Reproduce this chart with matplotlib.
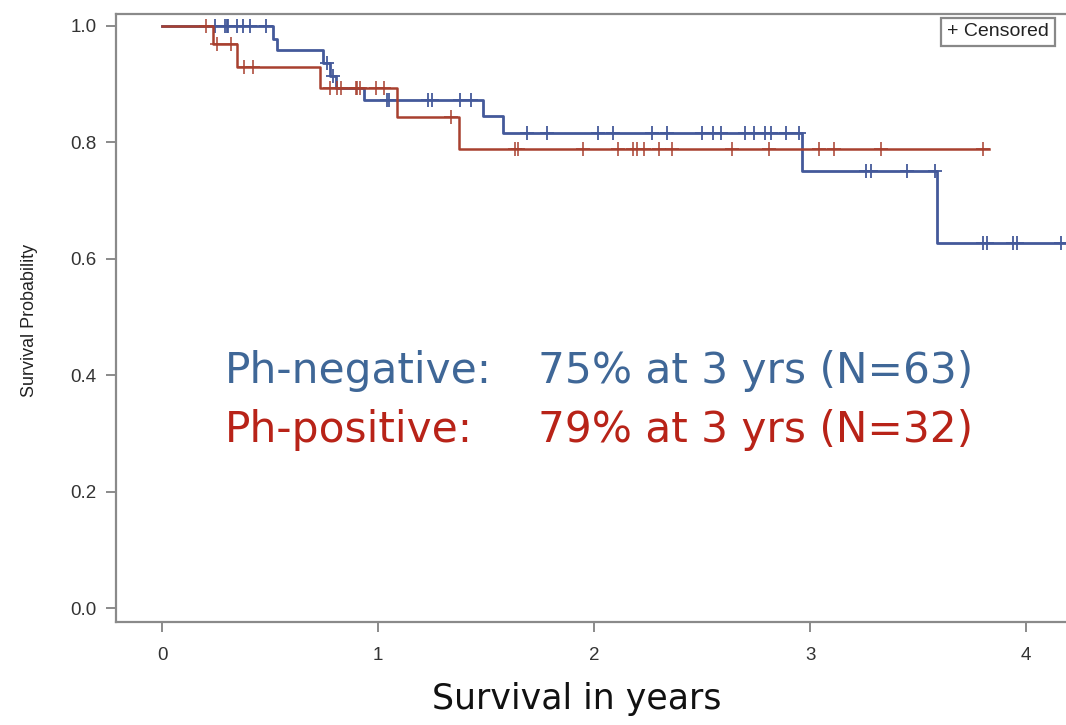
import numpy as np
import matplotlib
matplotlib.use("Agg")
import matplotlib.pyplot as plt

# ---- data ----
neg_step_times = [0.0, 0.514, 0.532, 0.745, 0.78, 0.805, 0.935, 1.487, 1.58, 2.965, 3.59]
neg_surv = [1.0, 0.978, 0.958, 0.937, 0.915, 0.894, 0.873, 0.845, 0.816, 0.751, 0.627]
neg_end = 4.30
neg_censor = [0.245, 0.292, 0.30, 0.306, 0.346, 0.376, 0.407, 0.481, 0.765, 0.79,
              1.04, 1.05, 1.23, 1.25, 1.38, 1.43, 1.69, 1.78, 2.02, 2.09, 2.27,
              2.34, 2.50, 2.55, 2.59, 2.70, 2.74, 2.79, 2.82, 2.89, 2.95, 3.26,
              3.28, 3.45, 3.58, 3.80, 3.82, 3.94, 3.96, 4.16]

pos_step_times = [0.0, 0.236, 0.347, 0.731, 1.087, 1.375]
pos_surv = [1.0, 0.969, 0.930, 0.894, 0.844, 0.789]
pos_end = 3.83
pos_censor = [0.204, 0.254, 0.32, 0.38, 0.42, 0.78, 0.81, 0.83, 0.90, 0.905, 0.915,
              0.99, 1.03, 1.34, 1.634, 1.65, 1.95, 2.11, 2.18, 2.20, 2.23, 2.30,
              2.36, 2.64, 2.81, 3.04, 3.11, 3.33, 3.80]

x_ticks = [0, 1, 2, 3, 4]
y_ticks = [0.0, 0.2, 0.4, 0.6, 0.8, 1.0]

neg_label = ["Ph-negative:", "75% at 3 yrs (N=63)"]
pos_label = ["Ph-positive:", "79% at 3 yrs (N=32)"]

BLUE = "#44599a"
RED = "#a8402f"
TXT_BLUE = "#3f6797"
TXT_RED = "#b82318"
SPINE = "#8a8a8a"
W, H = 1066, 725


def step_y(times, surv, t):
    idx = np.searchsorted(np.asarray(times), np.asarray(t), side="right") - 1
    return np.asarray(surv)[idx]


fig = plt.figure(figsize=(W / 100, H / 100), dpi=100)
ax = fig.add_axes([116 / W, 1 - 622 / H, 1 - 116 / W, (622 - 14) / H])

# Ph-negative (blue)
xs = list(neg_step_times) + [neg_end]
ys = list(neg_surv) + [neg_surv[-1]]
ax.step(xs, ys, where="post", color=BLUE, lw=2.0, zorder=3)
ax.plot(neg_censor, step_y(neg_step_times, neg_surv, neg_censor), ls="none",
        marker="+", ms=10, mew=1.3, color=BLUE, zorder=3)

# Ph-positive (red)
xs = list(pos_step_times) + [pos_end]
ys = list(pos_surv) + [pos_surv[-1]]
ax.step(xs, ys, where="post", color=RED, lw=1.8, zorder=4)
ax.plot(pos_censor, step_y(pos_step_times, pos_surv, pos_censor), ls="none",
        marker="+", ms=10, mew=1.1, color=RED, zorder=4)

ax.set_xlim(-0.213, 4.185)
ax.set_ylim(-0.0232, 1.0206)
ax.set_xticks(x_ticks)
ax.set_xticklabels([str(v) for v in x_ticks])
ax.set_yticks(y_ticks)
ax.set_yticklabels([f"{v:.1f}" for v in y_ticks])

for s in ["left", "bottom", "top"]:
    ax.spines[s].set_color(SPINE)
    ax.spines[s].set_linewidth(1.6)
ax.spines["right"].set_visible(False)
ax.tick_params(axis="both", direction="out", length=7, width=1.4, color=SPINE,
               labelsize=13.5, labelcolor="#333333")
ax.tick_params(axis="x", pad=11)
ax.tick_params(axis="y", pad=7)
for lab in ax.get_xticklabels() + ax.get_yticklabels():
    lab.set_family("Liberation Sans")

# axis labels
fig.text(30 / W, 1 - 320 / H, "Survival Probability", rotation=90,
         ha="center", va="center", fontsize=12.9, family="Liberation Sans",
         color="#222222")
fig.text(577 / W, 1 - 709 / H, "Survival in years", ha="center",
         va="baseline", fontsize=25, family="DejaVu Sans", color="#111111")

# legend box
fig.text(1049 / W, 1 - 32 / H, "+ Censored", ha="right", va="center",
         fontsize=14, family="Liberation Sans", color="#222222",
         bbox=dict(boxstyle="square,pad=0.3", fc="white", ec="#888888", lw=1.6))

# annotations
fig.text(225 / W, 1 - 383 / H, neg_label[0], ha="left", va="baseline",
         fontsize=30.4, family="DejaVu Sans", color=TXT_BLUE)
fig.text(538 / W, 1 - 383 / H, neg_label[1], ha="left", va="baseline",
         fontsize=30.4, family="DejaVu Sans", color=TXT_BLUE)
fig.text(225 / W, 1 - 442 / H, pos_label[0], ha="left", va="baseline",
         fontsize=30.4, family="DejaVu Sans", color=TXT_RED)
fig.text(538 / W, 1 - 442 / H, pos_label[1], ha="left", va="baseline",
         fontsize=30.4, family="DejaVu Sans", color=TXT_RED)

fig.savefig("out.png", dpi=100)
